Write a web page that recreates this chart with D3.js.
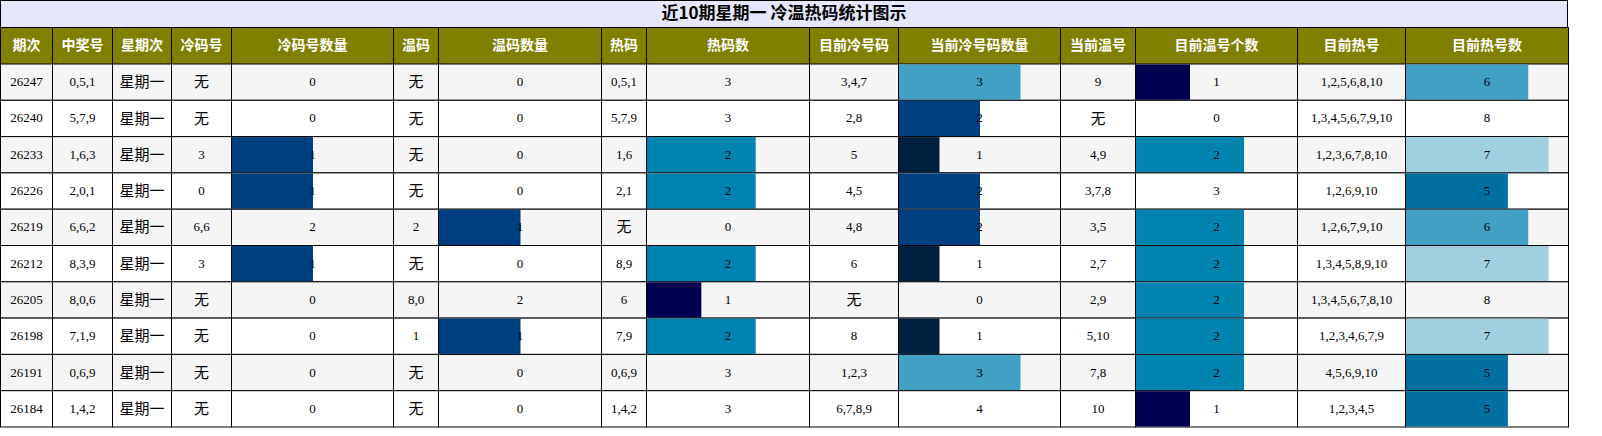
<!DOCTYPE html>
<html><head><meta charset="utf-8">
<script src="https://cdn.jsdelivr.net/npm/d3@7"></script>
<style>html,body{margin:0;background:#fff;overflow:hidden}svg{display:block}</style>
</head><body><div id="chart"></div>
<script>
const title = "近10期星期一 冷温热码统计图示";
const headers = ["期次","中奖号","星期次","冷码号","冷码号数量","温码","温码数量","热码","热码数","目前冷号码","当前冷号码数量","当前温号","目前温号个数","目前热号","目前热号数"];
const colEdges = [0,52,112,171,231,393,438,601,646,809,898,1060,1135,1297,1405,1568];
const issues = ["26247","26240","26233","26226","26219","26212","26205","26198","26191","26184"];
const winNums = ["0,5,1","5,7,9","1,6,3","2,0,1","6,6,2","8,3,9","8,0,6","7,1,9","0,6,9","1,4,2"];
const coldNums = ["无","无","3","0","6,6","3","无","无","无","无"];
const coldCount = [0,0,1,1,2,1,0,0,0,0];
const warmNums = ["无","无","无","无","2","无","8,0","1","无","无"];
const warmCount = [0,0,0,0,1,0,2,1,0,0];
const hotNums = ["0,5,1","5,7,9","1,6","2,1","无","8,9","6","7,9","0,6,9","1,4,2"];
const hotCount = [3,3,2,2,0,2,1,2,3,3];
const curCold = ["3,4,7","2,8","5","4,5","4,8","6","无","8","1,2,3","6,7,8,9"];
const curColdCount = [3,2,1,2,2,1,0,1,3,4];
const curWarm = ["9","无","4,9","3,7,8","3,5","2,7","2,9","5,10","7,8","10"];
const curWarmCount = [1,0,2,3,2,2,2,2,2,1];
const curHot = ["1,2,5,6,8,10","1,3,4,5,6,7,9,10","1,2,3,6,7,8,10","1,2,6,9,10","1,2,6,7,9,10","1,3,4,5,8,9,10","1,3,4,5,6,7,8,10","1,2,3,4,6,7,9","4,5,6,9,10","1,2,3,4,5"];
const curHotCount = [6,8,7,5,6,7,8,7,5,5];

// bar colour by value for each count column
const barCols = {
  4: {max:2, color:{1:"#003f7f"}},
  6: {max:2, color:{1:"#003f7f"}},
  8: {max:3, color:{1:"#000050",2:"#0083ae"}},
  10:{max:4, color:{1:"#002040",2:"#004080",3:"#42a0c4"}},
  12:{max:3, color:{1:"#000050",2:"#0083ae"}},
  14:{max:8, color:{5:"#0070a0",6:"#42a0c4",7:"#a0cfe0"}}
};

const columns = [issues,winNums,null,coldNums,coldCount,warmNums,warmCount,hotNums,hotCount,curCold,curColdCount,curWarm,curWarmCount,curHot,curHotCount];
const W = 1602, H = 436, titleH = 27, headH = 37, rowH = 36.3;
const svg = d3.select("#chart").append("svg").attr("width",W).attr("height",H);

const x = d3.scaleLinear().domain([0,1568]).range([0.5,1568.5]);
const y = d3.scaleBand().domain(issues).range([titleH+headH, titleH+headH+rowH*issues.length]);

svg.append("rect").attr("x",0.5).attr("y",0.5).attr("width",1567).attr("height",titleH)
  .attr("fill","#e6e6fa").attr("stroke","#000");
svg.append("text").attr("x",784).attr("y",titleH/2+1).attr("text-anchor","middle").attr("dominant-baseline","middle")
  .attr("font-family","Noto Sans CJK SC").attr("font-weight","bold").attr("font-size",17).text(title);

const head = svg.append("g");
headers.forEach((h,i) => {
  head.append("rect").attr("x",x(colEdges[i])).attr("y",titleH+0.5).attr("width",x(colEdges[i+1])-x(colEdges[i])).attr("height",headH)
    .attr("fill","#808000").attr("stroke","#000");
  head.append("text").attr("x",(x(colEdges[i])+x(colEdges[i+1]))/2).attr("y",titleH+headH/2+1)
    .attr("text-anchor","middle").attr("dominant-baseline","middle").attr("fill","#fff")
    .attr("font-family","Noto Sans CJK SC").attr("font-weight","bold").attr("font-size",14).text(h);
});

const body = svg.append("g");
issues.forEach((iss,r) => {
  const y0 = y(iss);
  headers.forEach((h,c) => {
    const x0 = x(colEdges[c]), x1 = x(colEdges[c+1]);
    body.append("rect").attr("x",x0).attr("y",y0).attr("width",x1-x0).attr("height",rowH)
      .attr("fill", r%2===0 ? "#f5f5f5" : "#fff").attr("stroke","#000");
    const val = c===2 ? "星期一" : columns[c][r];
    const bc = barCols[c];
    if (bc && val>0 && val<bc.max) {
      const bx = d3.scaleLinear().domain([0,bc.max]).range([x0,x1]);
      body.append("rect").attr("x",x0+0.5).attr("y",y0+0.5).attr("width",bx(val)-x0).attr("height",rowH-1)
        .attr("fill",bc.color[val]);
    }
    const cjk = (val==="无" || c===2);
    body.append("text").attr("x",(x0+x1)/2).attr("y",y0+rowH/2+1)
      .attr("text-anchor","middle").attr("dominant-baseline","middle").attr("fill","#000")
      .attr("font-family", cjk ? "Noto Sans CJK SC" : "Liberation Serif")
      .attr("font-size", cjk ? 15 : 13).text(val);
  });
});
</script></body></html>
